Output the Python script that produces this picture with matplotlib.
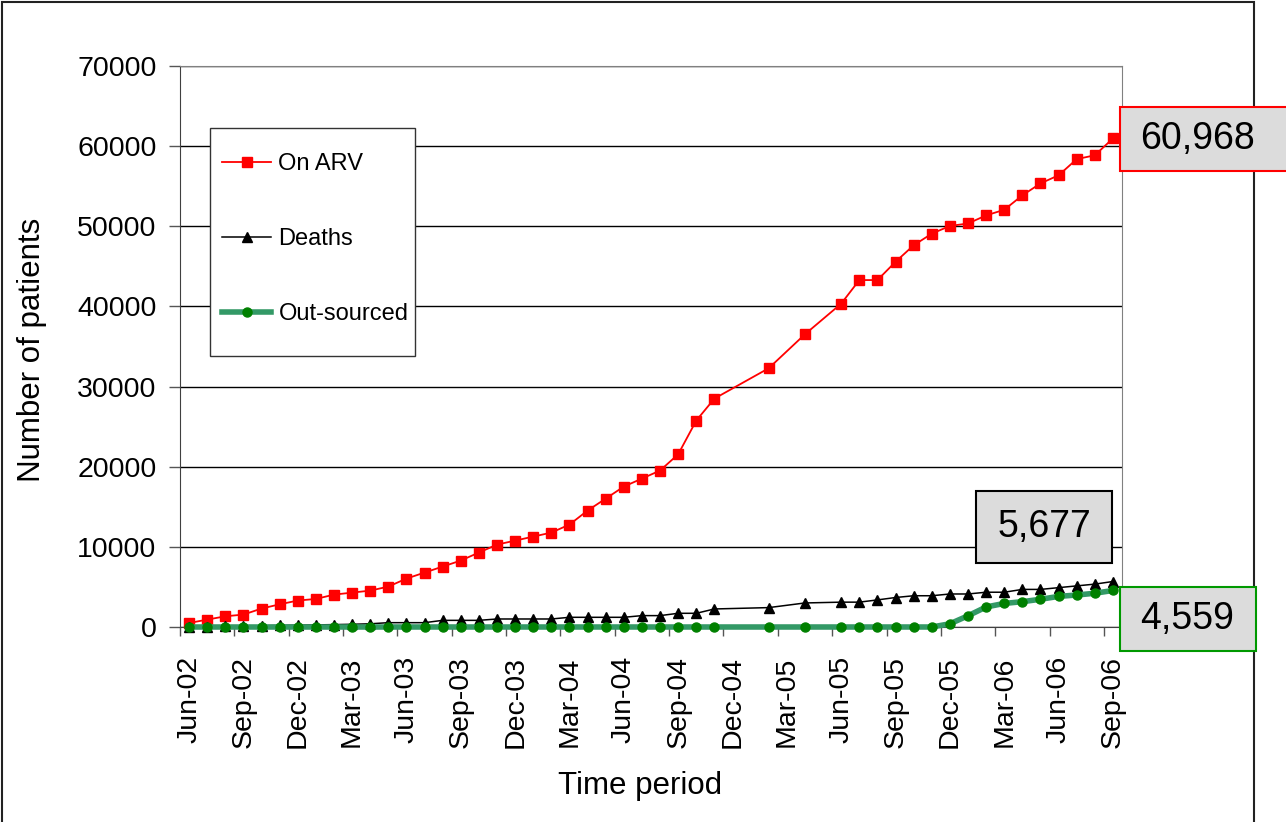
import matplotlib
matplotlib.use("Agg")
import matplotlib.pyplot as plt
from matplotlib.patches import Rectangle

plt.rcParams['font.family'] = ['Liberation Sans', 'DejaVu Sans']

# months counted from Jun-02 (0) to Sep-06 (51)
months = [0, 1, 2, 3, 4, 5, 6, 7, 8, 9, 10, 11, 12, 13, 14, 15, 16, 17, 18, 19,
          20, 21, 22, 23, 24, 25, 26, 27, 28, 29, 32, 34, 36, 37, 38, 39, 40, 41,
          42, 43, 44, 45, 46, 47, 48, 49, 50, 51]

on_arv = [500, 920, 1335, 1550, 2300, 2830, 3300, 3500, 4040, 4290,
          4540, 5040, 6040, 6790, 7540, 8290, 9290, 10280, 10780, 11280,
          11780, 12780, 14530, 16020, 17520, 18520, 19520, 21550, 25760, 28500,
          32290, 36530,
          40350, 43290, 43290, 45570, 47630, 49080, 50040, 50350, 51360, 52060,
          53860, 55350, 56360, 58380, 58860, 60968]

deaths = [30, 60, 90, 120, 160, 200, 230, 260, 300, 340,
          400, 540, 540, 540, 830, 830, 830, 1000, 1000, 1000,
          1000, 1210, 1210, 1210, 1210, 1420, 1420, 1710, 1710, 2250,
          2420, 3000,
          3100, 3100, 3380, 3680, 3900, 3900, 4120, 4120, 4340, 4340,
          4690, 4690, 4910, 5130, 5350, 5677]

outsourced = [0, 0, 0, 0, 0, 0, 0, 0, 0, 0,
              0, 0, 0, 0, 0, 0, 0, 0, 0, 0,
              0, 0, 0, 0, 0, 0, 0, 0, 0, 0,
              0, 0,
              0, 0, 0, 0, 0, 0, 400, 1400, 2500, 2940,
              3160, 3460, 3820, 3990, 4210, 4559]

tick_labels = ['Jun-02', 'Sep-02', 'Dec-02', 'Mar-03', 'Jun-03', 'Sep-03',
               'Dec-03', 'Mar-04', 'Jun-04', 'Sep-04', 'Dec-04', 'Mar-05',
               'Jun-05', 'Sep-05', 'Dec-05', 'Mar-06', 'Jun-06', 'Sep-06']

W, H = 1286, 822
fig = plt.figure(figsize=(W / 100, H / 100), dpi=100)
ax = fig.add_axes([180 / W, 1 - 627 / H, 942 / W, 561 / H])

ax.plot(months, on_arv, color='red', lw=1.3, marker='s', ms=6.5,
        label='On ARV', clip_on=False, zorder=4)
ax.plot(months, deaths, color='black', lw=1.1, marker='^', ms=6.5,
        label='Deaths', clip_on=False, zorder=5)
ax.plot(months, outsourced, color='#339966', lw=4, marker='o', ms=6.5,
        mfc='#008000', mec='#008000', label='Out-sourced', clip_on=False, zorder=6)

ax.set_xlim(-0.5, 51.5)
ax.set_ylim(0, 70000)
ax.set_yticks(range(0, 70001, 10000))
ax.yaxis.grid(True, color='black', lw=1)
ax.set_axisbelow(True)
ax.tick_params(axis='y', direction='out', length=8, width=1, color='#555555',
               labelsize=20.5, pad=9)

# tick marks at month boundaries, labels at month centres
ax.set_xticks([m - 0.5 for m in range(0, 52, 3)], minor=True)
ax.set_xticks(range(0, 52, 3))
ax.set_xticklabels(tick_labels, rotation=90)
ax.tick_params(axis='x', which='major', length=0, labelsize=20.5, pad=21)
ax.tick_params(axis='x', which='minor', direction='out', length=6.5, width=1,
               color='#555555')

for side in ['left', 'bottom']:
    ax.spines[side].set_color('#404040')
for side in ['top', 'right']:
    ax.spines[side].set_color('#808080')

ax.set_ylabel('Number of patients', fontsize=22.5)
ax.yaxis.set_label_coords((32 - 180) / 942, (627 - 350) / 561)
ax.yaxis.label.set_va('center')
ax.set_xlabel('Time period', fontsize=22.5)
ax.xaxis.set_label_coords((640 - 180) / 942, (627 - 786) / 561)
ax.xaxis.label.set_va('center')

# legend with a hand drawn frame (frame sits inside the axes, under the legend)
frame = Rectangle((210 / W, 1 - 356 / H), 205 / W, 228 / H,
                  transform=fig.transFigure, fc='white', ec='#333333',
                  lw=1, zorder=8, clip_on=False)
ax.add_artist(frame)
leg = ax.legend(loc='center left', bbox_to_anchor=(210 / W, 1 - 239 / H),
                bbox_transform=fig.transFigure, frameon=False, fontsize=17,
                labelspacing=2.25, handlelength=2.1, handletextpad=0.3,
                borderpad=0, numpoints=1)
leg.set_zorder(9)

# outer chart border
fig.add_artist(Rectangle((2 / W, -0.05), 1252 / W, 1.05 - 2 / H,
                         transform=fig.transFigure, fill=False, ec='#222222',
                         lw=1.5, zorder=1))

# value call-outs
callouts = [
    (on_arv[-1], 1120, 107, 170, 64, 'red', 1197),
    (deaths[-1], 976, 491, 136, 72, 'black', 1044),
    (outsourced[-1], 1120, 587, 136, 64, '#009900', 1187),
]
for val, bx, by, bw, bh, ec, tx in callouts:
    fig.add_artist(Rectangle((bx / W, 1 - (by + bh) / H), bw / W, bh / H,
                             transform=fig.transFigure, fc='#dcdcdc', ec=ec,
                             lw=1.5, zorder=10))
    fig.text(tx / W, 1 - (by + bh / 2) / H, f'{val:,}', fontsize=27,
             ha='center', va='center', zorder=11)

fig.savefig('out.png', dpi=100)
